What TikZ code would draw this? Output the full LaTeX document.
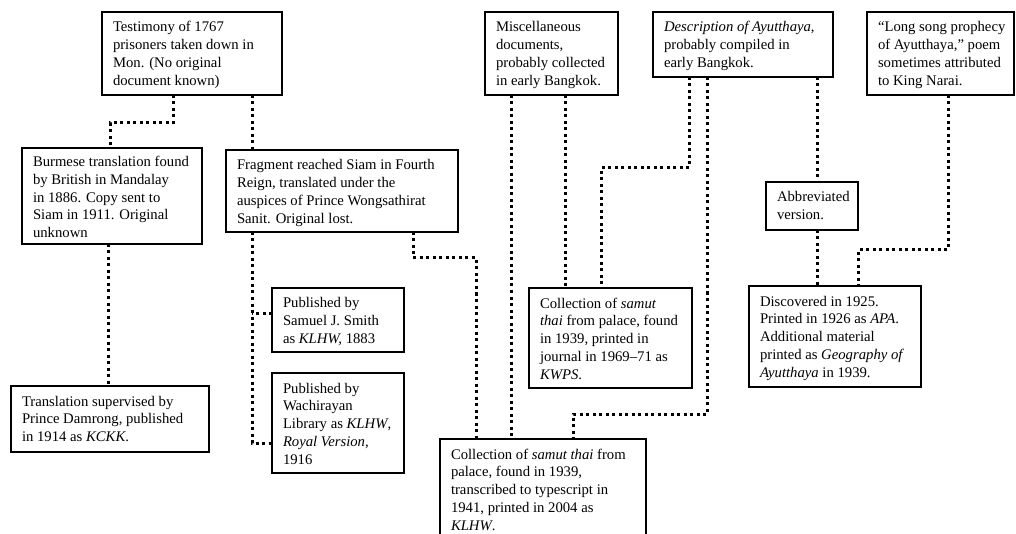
\documentclass[tikz,border=0pt]{standalone}
\usepackage{fontspec}
\setmainfont{Liberation Serif}
\newcommand{\bxt}[4][20pt]{\parbox[c][#3pt][t]{#2pt}{\rule{0pt}{#1}\begin{tabular}[t]{@{}l@{}}#4\end{tabular}}}
\tikzset{
  box/.style={draw, line width=1.1pt, inner xsep=11pt, inner ysep=0pt, outer sep=0pt, anchor=north west,
    font=\fontsize{14.7}{17.8}\selectfont},
  conn/.style={line width=3pt, dash pattern=on 3pt off 3.5pt}
}
\begin{document}
\begin{tikzpicture}[x=1pt, y=-1pt]
\useasboundingbox (0,0) rectangle (1016,534);
\node[box] (A) at (102,12) {\bxt{158}{83}{Testimony of 1767\\prisoners taken down in\\Mon. (No original\\document known)}};
\node[box] (B) at (22,148) {\bxt[18.5pt]{158}{96}{Burmese translation found\\by British in Mandalay\\in 1886. Copy sent to\\Siam in 1911. Original\\unknown}};
\node[box] (C) at (226,150) {\bxt{210}{82}{Fragment reached Siam in Fourth\\Reign, translated under the\\auspices of Prince Wongsathirat\\Sanit. Original lost.}};
\node[box] (D) at (485,12) {\bxt{111}{83}{Miscellaneous\\documents,\\probably collected\\in early Bangkok.}};
\node[box] (E) at (653,12) {\bxt{158}{65}{\textit{Description of Ayutthaya},\\probably compiled in\\early Bangkok.}};
\node[box] (F) at (867,12) {\bxt{125}{83}{“Long song prophecy\\of Ayutthaya,” poem\\sometimes attributed\\to King Narai.}};
\node[box] (G) at (766,182) {\bxt{70}{48}{Abbreviated\\version.}};
\node[box] (H) at (11,386) {\bxt{176}{66}{Translation supervised by\\Prince Damrong, published\\in 1914 as \textit{KCKK}.}};
\node[box] (I) at (272,288) {\bxt{110}{64}{Published by\\Samuel J. Smith\\as \textit{KLHW,} 1883}};
\node[box] (J) at (272,373) {\bxt{110}{100}{Published by\\Wachirayan\\Library as \textit{KLHW},\\\textit{Royal Version},\\1916}};
\node[box] (K) at (440,439) {\bxt{184}{120}{Collection of \textit{samut thai} from\\palace, found in 1939,\\transcribed to typescript in\\1941, printed in 2004 as\\\textit{KLHW}.}};
\node[box] (L) at (529,288) {\bxt{141}{100}{Collection of \textit{samut}\\\textit{thai} from palace, found\\in 1939, printed in\\journal in 1969–71 as\\\textit{KWPS}.}};
\node[box] (M) at (749,286) {\bxt{150}{101}{Discovered in 1925.\\Printed in 1926 as \textit{APA}.\\Additional material\\printed as \textit{Geography of}\\\textit{Ayutthaya} in 1939.}};
% connectors
\draw[conn] ([xshift=71pt]A.south west) -- ++(0,28) -| ([xshift=88pt]B.north west);
\draw[conn] ([xshift=150pt]A.south west) -- ([xshift=26pt]C.north west);
\draw[conn] ([xshift=86pt]B.south west) -- ([xshift=97pt]H.north west);
\draw[conn] ([xshift=26pt]C.south west) |- ([yshift=-70pt]J.north west);
\draw[conn] ([yshift=-25pt]I.north west) -- ++(-20,0);
\draw[conn] ([xshift=187pt]C.south west) -- ++(0,26) -| ([xshift=36pt]K.north west);
\draw[conn] ([xshift=26pt]D.south west) -- ([xshift=71pt]K.north west);
\draw[conn] ([xshift=80pt]D.south west) -- ([xshift=36pt]L.north west);
\draw[conn] ([xshift=36pt]E.south west) -- ++(0,91) -| ([xshift=72pt]L.north west);
\draw[conn] ([xshift=54pt]E.south west) -- ++(0,337) -| ([xshift=133pt]K.north west);
\draw[conn] ([xshift=164pt]E.south west) -- ([xshift=51pt]G.north west);
\draw[conn] ([xshift=51pt]G.south west) -- ([xshift=68pt]M.north west);
\draw[conn] ([xshift=81pt]F.south west) -- ++(0,155) -| ([xshift=109pt]M.north west);
\end{tikzpicture}
\end{document}
